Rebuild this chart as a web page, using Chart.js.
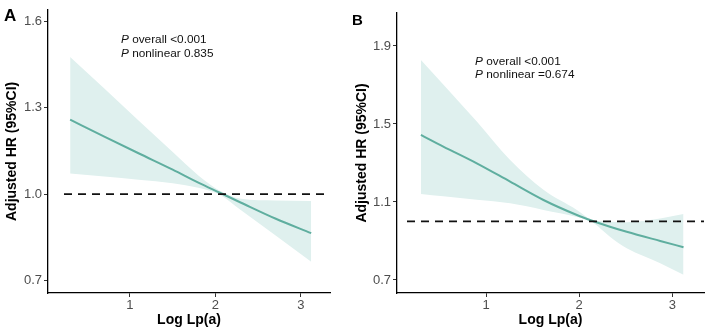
<!DOCTYPE html>
<html><head><meta charset="utf-8">
<script src="https://cdn.jsdelivr.net/npm/chart.js@4"></script>
<style>
html,body{margin:0;padding:0;background:#fff;}
#wrap{position:relative;width:708px;height:332px;overflow:hidden;background:#fff;}
#boxA{position:absolute;left:0;top:0;width:354px;height:332px;}
#boxB{position:absolute;left:350px;top:0;width:358px;height:332px;}
</style></head><body>
<div id="wrap">
<div id="boxA"><canvas id="cA" width="354" height="332"></canvas></div>
<div id="boxB"><canvas id="cB" width="358" height="332"></canvas></div>
</div>
<script>
// ---- Panel A data (Log Lp(a) vs adjusted HR with 95% CI) ----
const xA     = [0.3, 0.7, 1.1, 1.5, 1.8, 2.05, 2.3, 2.7, 3.12];
const hrA    = [1.259, 1.2, 1.142, 1.085, 1.04, 1.005, 0.97, 0.915, 0.864];
const upperA = [1.477, 1.367, 1.256, 1.146, 1.065, 1.012, 0.984, 0.978, 0.976];
const lowerA = [1.072, 1.061, 1.05, 1.038, 1.022, 0.998, 0.944, 0.857, 0.765];
// ---- Panel B data ----
const xB     = [0.3, 0.54, 0.9, 1.258, 1.616, 1.975, 2.13, 2.33, 2.51, 2.87, 3.12];
const hrB    = [1.444, 1.384, 1.298, 1.204, 1.11, 1.033, 1.005, 0.973, 0.947, 0.9, 0.868];
const upperB = [1.828, 1.702, 1.512, 1.315, 1.162, 1.059, 1.01, 0.998, 0.996, 1.015, 1.038];
const lowerB = [1.141, 1.129, 1.111, 1.093, 1.059, 1.023, 1.0, 0.922, 0.862, 0.786, 0.726];
// ---- Tick labels ----
const yTicksA = [0.7, 1.0, 1.3, 1.6];
const yTicksB = [0.7, 1.1, 1.5, 1.9];
const xTicks  = [1, 2, 3];
const refHR = 1.0;
// ---- Texts ----
const yTitle = 'Adjusted HR (95%CI)';
const xTitle = 'Log Lp(a)';
const notesA = ['overall <0.001', 'nonlinear 0.835'];
const notesB = ['overall <0.001', 'nonlinear =0.674'];

const FAM = '"Liberation Sans", Arial, Helvetica, sans-serif';
const LINE = '#5fae9f';
const BAND = '#dff0ee';

const notePlugin = {
  id: 'notes',
  afterDatasetsDraw(chart, args, o) {
    const {ctx, chartArea: ca, scales} = chart;
    const y = scales.y.getPixelForValue(refHR);
    ctx.save();
    ctx.strokeStyle = '#111';
    ctx.lineWidth = 1.8;
    ctx.setLineDash([8, 6]);
    ctx.beginPath();
    ctx.moveTo(ca.left + o.dashOffset, y);
    ctx.lineTo(ca.right, y);
    ctx.stroke();
    ctx.restore();
  },
  afterDraw(chart, args, o) {
    const {ctx, scales} = chart;
    ctx.save();
    ctx.fillStyle = '#000';
    ctx.textBaseline = 'alphabetic';
    ctx.textAlign = 'left';
    ctx.font = 'bold ' + o.letterSize + 'px ' + FAM;
    ctx.fillText(o.letter, o.letterX, o.letterY);
    const px = scales.x.getPixelForValue(o.tx);
    o.lines.forEach((t, i) => {
      const py = scales.y.getPixelForValue(o.ty[i]);
      ctx.font = 'italic 11.8px ' + FAM;
      ctx.fillStyle = '#111';
      ctx.fillText('P', px, py);
      const w = ctx.measureText('P ').width;
      ctx.font = '11.8px ' + FAM;
      ctx.fillText(t, px + w, py);
    });
    ctx.restore();
  }
};

function pts(xs, ys) { return xs.map((x, i) => ({x: x, y: ys[i]})); }

function makeChart(id, xs, hr, up, lo, yTicks, yMin, yMax, xMin, xMax, yW, pad, notes, titleLH) {
  return new Chart(document.getElementById(id), {
    type: 'line',
    data: {
      datasets: [
        {data: pts(xs, hr), borderColor: LINE, borderWidth: 2, pointRadius: 0, fill: false, cubicInterpolationMode: 'monotone'},
        {data: pts(xs, up), borderColor: 'rgba(0,0,0,0)', borderWidth: 0, pointRadius: 0, backgroundColor: BAND, fill: '+1', cubicInterpolationMode: 'monotone'},
        {data: pts(xs, lo), borderColor: 'rgba(0,0,0,0)', borderWidth: 0, pointRadius: 0, fill: false, cubicInterpolationMode: 'monotone'}
      ]
    },
    options: {
      responsive: false, animation: false, devicePixelRatio: 1,
      layout: {padding: pad},
      plugins: {legend: {display: false}, tooltip: {enabled: false}, notes: notes},
      scales: {
        x: {
          type: 'linear', min: xMin, max: xMax,
          afterBuildTicks: s => { s.ticks = xTicks.map(v => ({value: v})); },
          afterFit: s => { s.height = 39; },
          ticks: {callback: v => String(v), font: {size: 13, family: FAM}, color: '#4d4d4d', padding: 1, maxRotation: 0},
          grid: {drawOnChartArea: false, drawTicks: true, tickLength: 4, color: '#333', lineWidth: 1},
          border: {display: true, color: '#000', width: 1.3},
          title: {display: true, text: xTitle, color: '#000', font: {size: 14, weight: 'bold', family: FAM, lineHeight: 1.2}, padding: {top: 0, bottom: 3.6}}
        },
        y: {
          type: 'linear', min: yMin, max: yMax,
          afterBuildTicks: s => { s.ticks = yTicks.map(v => ({value: v})); },
          afterFit: s => { s.width = yW; },
          ticks: {callback: v => Number(v).toFixed(1), font: {size: 13, family: FAM}, color: '#4d4d4d', padding: 2},
          grid: {drawOnChartArea: false, drawTicks: true, tickLength: 4, color: '#333', lineWidth: 1},
          border: {display: true, color: '#000', width: 1.3},
          title: {display: true, text: yTitle, color: '#000', font: {size: 14, weight: 'bold', family: FAM, lineHeight: titleLH}, padding: {top: 3.6, bottom: 0}}
        }
      }
    },
    plugins: [notePlugin]
  });
}

makeChart('cA', xA, hrA, upperA, lowerA, yTicksA, 0.656, 1.641, 0.041, 3.34, 48,
  {top: 5, right: 24, bottom: 0, left: 0},
  {letter: 'A', letterSize: 17, letterX: 4, letterY: 21, tx: 0.895, ty: [1.525, 1.477], lines: notesA, dashOffset: 16}, 1.2);

makeChart('cB', xB, hrB, upperB, lowerB, yTicksB, 0.633, 2.069, 0.043, 3.34, 47,
  {top: 13, right: 4, bottom: 0, left: 0},
  {letter: 'B', letterSize: 15, letterX: 2, letterY: 25, tx: 0.882, ty: [1.803, 1.736], lines: notesB, dashOffset: 10}, 1.2);
</script>
</body></html>
